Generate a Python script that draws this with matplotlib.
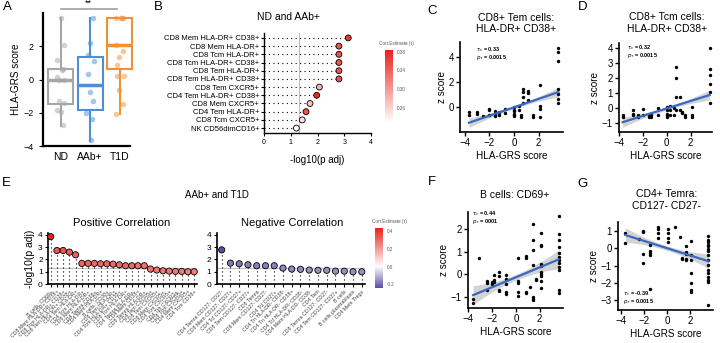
import numpy as np
import matplotlib
matplotlib.use('Agg')
import matplotlib.pyplot as plt
from matplotlib.colors import LinearSegmentedColormap, Normalize
from matplotlib.cm import ScalarMappable

plt.rcParams['font.family'] = ['Liberation Sans', 'DejaVu Sans']

# ---------------- data ----------------
# A: HLA-GRS per group
groups = ['ND', 'AAb+', 'T1D']
a_nd = [3.7, 2.1, 1.2, 0.65, 0.55, 0.15, 0.0, -0.05, -1.3, -1.4, -1.85, -1.95, -2.75]
a_aab = [3.7, 2.2, 1.45, 1.1, 0.35, -0.75, -1.3, -2.0, -2.4, -3.65]
a_t1d = [3.7, 3.7, 3.7, 3.7, 2.1, 1.7, 1.35, 0.85, 0.2, 0.2, -0.65, -1.5, -2.05]
a_med = [-0.06, -0.31, 2.08]
a_q1 = [-1.5, -1.81, 0.64]
a_q3 = [0.62, 1.38, 3.67]
a_lo = [-2.8, -3.7, -2.05]
a_hi = [3.72, 3.72, 3.72]

# B: ND and AAb+
b_labels = ['CD8 Mem HLA-DR+ CD38+', 'CD8 Mem HLA-DR+', 'CD8 Tcm HLA-DR+',
            'CD8 Tcm HLA-DR+ CD38+', 'CD8 Tem HLA-DR+', 'CD8 Tem HLA-DR+ CD38+',
            'CD8 Tem CXCR5+', 'CD4 Tem HLA-DR+ CD38+', 'CD8 Mem CXCR5+',
            'CD4 Tem HLA-DR+', 'CD8 Tcm CXCR5+', 'NK CD56dimCD16+']
b_logp = [3.15, 2.8, 2.8, 2.8, 2.8, 2.8, 2.07, 1.97, 1.72, 1.57, 1.43, 1.21]
b_corr = [0.37, 0.35, 0.35, 0.35, 0.35, 0.35, 0.28, 0.38, 0.27, 0.35, 0.25, 0.23]

# E: AAb+ and T1D
pos_labels = ['B cells: CD69+', 'CD8 Mem HLA-DR+ CD38+', 'CD8 Tcm HLA-DR+ CD38+',
              'CD8 Tem HLA-DR+ CD38+', 'CD4 Tem HLA-DR+', 'CD4 Tcm HLA-DR+',
              'CD8 Mem HLA-DR+', 'CD4 Temra CD38+', 'CD4 Mem HLA-DR+', 'B cells: CD38+',
              'CD8 Tem HLA-DR+', 'CD4 Tcm HLA-DR+ CD38+', 'CD8 Tcm HLA-DR+',
              'CD4 Temra HLA-DR+', 'CD4 Mem CD38+', 'CD8 Temra HLA-DR+', 'CD4 Tem CXCR5+',
              'CD8 Tem CXCR5+', 'CD8 Mem CXCR5+', 'CD4 Tcm CXCR5+', 'CD4 Tfh CXCR3+',
              'CD8 Tcm CXCR5+', 'CD4 Mem CXCR5+', 'CD4 Tcm CD38+']
pos_logp = [3.86, 2.73, 2.73, 2.6, 2.38, 1.68, 1.68, 1.68, 1.65, 1.65, 1.62, 1.57,
            1.49, 1.49, 1.49, 1.49, 1.22, 1.14, 1.08, 1.05, 1.03, 1.03, 1.0, 1.0]
pos_corr = [0.43, 0.33, 0.33, 0.32, 0.31, 0.3, 0.3, 0.3, 0.3, 0.3, 0.29, 0.29,
            0.29, 0.29, 0.28, 0.28, 0.27, 0.27, 0.26, 0.26, 0.26, 0.26, 0.25, 0.25]
neg_labels = ['CD4 Temra CD127- CD27-', 'CD8 Mem CD127- CD27+', 'CD4 Tcl CD127- CD27+',
              'CD8 Tem CD127- CD27+', 'CD8 Temra', 'CD8 Mem CD127- CD27-', 'CD4 Tcl CD27+',
              'CD4 Tn HLA-DR- CD38-', 'CD4 Tn HLA-DR- CD38+', 'CD4 Tcl HLA-DR- CD38-',
              'CD4 Mem HLA-DR- CD38-', 'CD4 Tem', 'CD8 Temra CD127- CD27-',
              'CD4 Tem CD127- CD27+', 'B cells', 'B cells plasmablasts', 'CD4 Mem Tregs']
neg_logp = [2.78, 1.7, 1.65, 1.57, 1.49, 1.49, 1.49, 1.3, 1.22, 1.2, 1.14, 1.12,
            1.12, 1.05, 1.05, 1.0, 1.0]
neg_corr = [-0.39, -0.18, -0.18, -0.17, -0.17, -0.17, -0.17, -0.16, -0.16, -0.16,
            -0.15, -0.15, -0.15, -0.15, -0.15, -0.15, -0.15]

# C, D, F, G: z score vs HLA-GRS (one x per column of points)
c_x = [-3.65, -3.0, -2.5, -2.0, -1.55, -1.25, -0.7, 0.0, 0.4, 0.6, 0.7, 1.1, 1.5, 2.1, 3.6]
c_y = [[-0.34, -0.6], [-0.4, -0.5], [-0.7], [-0.1, -0.2, -0.6], [-0.5, -0.7, -0.3],
       [-0.35, -0.6], [-0.1, -0.45], [0.0, -0.3, -0.5, -0.7, -0.6, -0.25], [0.1, -0.2],
       [-0.6, -0.75], [1.42, 1.24, 0.84, 0.32], [1.3, 1.1, 0.58], [-0.6, -0.75],
       [1.76, 0.1, -0.1, -0.75], [4.66, 4.34, 3.65, 1.42, 1.03, 0.68, 0.36]]
c_fit = [-1.22, 1.2]
c_band = [0.38, 0.1]

d_x = [-3.7, -2.8, -2.4, -2.0, -1.5, -1.3, -0.75, 0.0, 0.3, 0.65, 0.8, 1.1, 1.25, 1.5, 2.1, 3.6]
d_y = [[-0.5, -0.6], [-0.15, -0.4, -0.5], [-0.5, -0.6], [-0.05, -0.5], [-0.6, -0.5],
       [-0.5, -0.6], [0.0, -0.5], [0.05, -0.15, -0.4, -0.5, -0.6], [0.1, -0.15, -0.5],
       [0.0, -0.5], [2.7, 1.95, 0.75, -0.15], [0.75, -0.15], [-0.25, -0.35],
       [-0.45, -0.6], [0.05, -0.5, -0.6], [3.95, 2.6, 2.2, 1.6, 1.05, 0.3]]
d_fit = [-0.95, 0.85]
d_band = [0.33, 0.1]

f_x = [-3.6, -3.1, -2.4, -2.05, -1.8, -1.4, -0.8, 0.15, 0.85, 1.15, 1.45, 1.7, 2.1, 3.6]
f_y = [[-1.12, -1.27], [0.73], [-0.3, -0.4, -0.7], [-0.35, -0.45], [-0.05, -0.25, -0.35],
       [0.1, -0.1, -0.7, -0.75], [-0.05, -0.2, -0.45, -0.8, -0.9],
       [0.7, -0.3, -0.4, -0.8, -0.95], [0.8, 0.7, -0.8, -0.85], [-0.55],
       [2.2, 1.5, 1.05, 0.4, -1.0, -1.1, -1.15], [-0.2, -0.25],
       [1.8, 1.3, 1.25, 0.45, 0.35, 0.1, 0.0, -0.1, -0.3, -0.6],
       [2.56, 1.79, 1.5, 1.2, 0.92, 0.77, 0.62, 0.48, 0.33, 0.19, -0.69, -0.83]]
f_fit = [-0.93, 0.65]
f_band = [0.42, 0.13]

g_x = [-3.65, -2.5, -2.15, -1.5, -0.8, 0.1, 0.7, 1.1, 1.25, 1.65, 2.1, 3.6]
g_y = [[0.85, 0.3], [0.55], [1.0, 0.9, -0.35, -0.85], [0.2, -0.15, -0.3, -0.4, -2.35],
       [1.2, 1.1, 0.85, 0.6], [1.1, 0.85, 0.6, 0.35], [1.2], [0.65], [-0.55, -0.6],
       [0.15, -0.2, -0.35, -0.6, -0.7], [0.4, -0.42, -0.67, -1.45, -2.0, -2.4, -2.5],
       [0.67, 0.48, 0.38, 0.19, 0.1, -0.04, -0.19, -0.38, -0.67, -0.96, -1.25, -1.44,
        -1.63, -1.83, -1.92, -3.27]]
g_fit = [0.75, -0.75]
g_band = [0.42, 0.13]

# ---------------- figure ----------------
W, H = 720, 343
fig = plt.figure(figsize=(W / 100, H / 100), dpi=100)


def ax_px(l, t, r, b):
    return fig.add_axes([l / W, 1 - b / H, (r - l) / W, (b - t) / H])


def txt(x, y, s, **kw):
    return fig.text(x / W, 1 - y / H, s, **kw)


def style(ax, lw=1.0):
    for sp in ['top', 'right']:
        ax.spines[sp].set_visible(False)
    for sp in ['left', 'bottom']:
        ax.spines[sp].set_linewidth(lw)


# panel letters
for letter, (lx, ly) in zip('ABCDEFG', [(7, 7), (158, 7), (432, 11), (583, 7),
                                         (6, 183), (432, 182), (582, 184)]):
    txt(lx, ly, letter, fontsize=9.5, ha='center', va='center')

# ---------- A ----------
axA = ax_px(43, 13, 130, 146)
box_cols = ['#a6a6a6', '#4d8fd6', '#f39036']
stats = [dict(med=a_med[i], q1=a_q1[i], q3=a_q3[i], whislo=a_lo[i], whishi=a_hi[i], fliers=[])
         for i in range(3)]
bp = axA.bxp(stats, positions=[1, 2, 3], widths=0.86, showfliers=False, showcaps=False,
             patch_artist=True, manage_ticks=False)
for i, c in enumerate(box_cols):
    bp['boxes'][i].set(facecolor='white', edgecolor=c, linewidth=1.5, clip_on=False)
    bp['medians'][i].set(color=c, linewidth=2.5, clip_on=False)
    for w in bp['whiskers'][2 * i:2 * i + 2]:
        w.set(color=c, linewidth=1.5)
for i, (pts, c) in enumerate(zip([a_nd, a_aab, a_t1d], box_cols)):
    jit = 0.13 * np.sin(np.arange(len(pts)) * 2.3 + i)
    axA.scatter(i + 1 + jit, pts, s=16, color=c, alpha=0.5, lw=0, zorder=3, clip_on=False)
axA.plot([1, 2.9], [4.22, 4.22], color='#a0a0a0', lw=1.2, clip_on=False)
axA.text(1.95, 4.3, '**', ha='center', va='bottom', fontsize=6.5)
axA.set_xlim(0.4, 3.35)
axA.set_ylim(-4, 4)
axA.set_yticks([-4, -2, 0, 2])
axA.set_xticks([1, 2, 3])
axA.set_xticklabels(groups, fontsize=7.5)
axA.tick_params(axis='y', labelsize=6.5, length=3)
axA.tick_params(axis='x', length=0, pad=4)
axA.set_ylabel('HLA-GRS score', fontsize=7.2, labelpad=2)
style(axA, 1.6)

# ---------- B ----------
cmap_b = LinearSegmentedColormap.from_list('wr', ['#ffffff', '#e8231c'])
norm_b = Normalize(0.227, 0.384)
axB = ax_px(264, 33, 371, 133)
rows = np.arange(len(b_labels))[::-1]
axB.hlines(rows, 0, b_logp, colors='black', linestyles=(0, (1, 3)), lw=0.8)
axB.axvline(1.3, color='#c0c0c0', lw=0.8, zorder=0)
axB.scatter(b_logp, rows, c=b_corr, cmap=cmap_b, norm=norm_b, s=18,
            edgecolors='black', linewidths=0.6, zorder=3)
axB.set_yticks(rows)
axB.set_yticklabels(b_labels, fontsize=5.5)
axB.set_xlim(0, 4)
axB.set_ylim(-0.6, 11.6)
axB.set_xticks([0, 1, 2, 3, 4])
axB.tick_params(axis='x', labelsize=5, length=2.5, pad=1.5)
axB.tick_params(axis='y', length=2, pad=1.5)
axB.set_xlabel('-log10(p adj)', fontsize=7, labelpad=7)
style(axB, 1.0)
txt(288, 17, 'ND and AAb+', fontsize=7.5, ha='center', va='center')

caxB = ax_px(385, 50, 393, 123)
cbB = fig.colorbar(ScalarMappable(norm=norm_b, cmap=cmap_b), cax=caxB)
cbB.outline.set_visible(False)
cbB.set_ticks([0.26, 0.30, 0.34, 0.38])
cbB.set_ticklabels(['0.26', '0.30', '0.34', '0.38'])
caxB.tick_params(labelsize=3.3, length=1.5, width=0.3, color='white', pad=1, labelcolor='#555555')
txt(379, 43, 'Corr.Estimate (τ)', fontsize=3.3, ha='left', va='center', color='#555555')

# ---------- E ----------
cmap_e = LinearSegmentedColormap.from_list('pwr', [(0, '#5a4e9e'), (0.36, '#ffffff'), (1, '#e8231c')])
norm_e = Normalize(-0.24, 0.43)


def lolli(ax, vals, corr, labels):
    xs = np.arange(len(vals))
    ax.vlines(xs, 0, vals, colors='black', linestyles=(0, (1, 2.6)), lw=0.8)
    ax.axhline(1.3, color='#c0c0c0', lw=0.8, zorder=0)
    ax.scatter(xs, vals, c=corr, cmap=cmap_e, norm=norm_e, s=20,
               edgecolors='black', linewidths=0.6, zorder=3, clip_on=False)
    ax.set_xticks(xs)
    ax.set_xticklabels(labels, rotation=45, ha='right', rotation_mode='anchor',
                       fontsize=3.8, color='#444444')
    ax.set_ylim(-0.02, 4.13)
    ax.set_yticks([0, 1, 2, 3, 4])
    ax.tick_params(axis='y', labelsize=6, length=2.5, pad=1.5)
    ax.tick_params(axis='x', length=2.5, pad=1)
    style(ax, 1.2)


axEp = ax_px(48.3, 233.3, 197, 284.3)
lolli(axEp, pos_logp, pos_corr, pos_labels)
axEp.set_xlim(-0.38, len(pos_logp) - 0.55)
axEp.set_ylabel('-log10(p adj)', fontsize=7.5, labelpad=2)

axEn = ax_px(216.7, 233.3, 365, 284.3)
lolli(axEn, neg_logp, neg_corr, neg_labels)
axEn.set_xlim(-0.57, len(neg_logp) - 0.63)

txt(217, 195, 'AAb+ and T1D', fontsize=7, ha='center', va='center')
txt(122, 223, 'Positive Correlation', fontsize=8, ha='center', va='center')
txt(292, 223, 'Negative Correlation', fontsize=8, ha='center', va='center')

caxE = ax_px(375, 228, 383, 288)
cbE = fig.colorbar(ScalarMappable(norm=norm_e, cmap=cmap_e), cax=caxE)
cbE.outline.set_visible(False)
cbE.set_ticks([-0.2, 0.0, 0.2, 0.4])
cbE.set_ticklabels(['-0.2', '0.0', '0.2', '0.4'])
caxE.tick_params(labelsize=3.3, length=1.5, width=0.3, color='white', pad=1, labelcolor='#555555')
txt(372, 221, 'Corr.Estimate (τ)', fontsize=3.3, ha='left', va='center', color='#555555')


# ---------- scatter panels ----------
def scatter_panel(box, cols, ys, fit, band, xlim, ylim, yticks, title, title_xy, stats_txt, stats_xy):
    ax = ax_px(*box)
    xs = np.concatenate([[x] * len(y) for x, y in zip(cols, ys)])
    yv = np.concatenate(ys)
    x0, x1 = min(cols), max(cols)
    gx = np.linspace(x0, x1, 60)
    gy = np.interp(gx, [x0, x1], fit)
    t = (gx - (x0 + x1) / 2) / ((x1 - x0) / 2)
    hw = band[1] + (band[0] - band[1]) * t ** 2
    ax.fill_between(gx, gy - hw, gy + hw, color='#c9c9c9', alpha=0.8, lw=0, zorder=1)
    ax.scatter(xs, yv, s=6, color='black', lw=0, zorder=2, clip_on=False)
    ax.plot(gx, gy, color='#3b68c0', lw=1.6, zorder=3)
    ax.set_xlim(*xlim)
    ax.set_ylim(*ylim)
    ax.set_xticks([-4, -2, 0, 2])
    ax.set_yticks(yticks)
    ax.tick_params(labelsize=7, length=3, width=1, pad=1.5)
    ax.set_xlabel('HLA-GRS score', fontsize=7.2, labelpad=2)
    ax.set_ylabel('z score', fontsize=7.2, labelpad=1)
    style(ax, 1.2)
    txt(title_xy[0], title_xy[1], title, fontsize=7.5, ha='center', va='center', linespacing=1.15)
    for k, s in enumerate(stats_txt):
        txt(stats_xy[0], stats_xy[1] + 7.5 * k, s, fontsize=4, fontweight='bold',
            ha='left', va='center')
    return ax


scatter_panel((460, 42, 563, 132), c_x, c_y, c_fit, c_band, (-4.38, 3.97), (-1.95, 5.15), [0, 2, 4],
              'CD8+ Tem cells:\nHLA-DR+ CD38+', (516, 23.5),
              [r'$\tau_c$ = 0.33', r'$p_\tau$ = 0.0015'], (476, 49.5))
scatter_panel((619, 43, 712, 132), d_x, d_y, d_fit, d_band, (-4.0, 3.8), (-1.6, 4.3), [-1, 0, 1, 2, 3, 4],
              'CD8+ Tcm cells:\nHLA-DR+ CD38+', (667, 23),
              [r'$\tau_c$ = 0.32', r'$p_\tau$ = 0.0015'], (627, 48))
scatter_panel((468, 212, 563, 308), f_x, f_y, f_fit, f_band, (-4.03, 3.97), (-1.5, 2.75), [-1, 0, 1, 2],
              'B cells: CD69+', (515, 195),
              [r'$\tau_c$ = 0.44', r'$p_\tau$ = 0001'], (472, 214))
scatter_panel((618, 222, 713, 310), g_x, g_y, g_fit, g_band, (-4.3, 4.0), (-3.55, 1.5), [-3, -2, -1, 0, 1],
              'CD4+ Temra:\nCD127- CD27-', (667, 200),
              [r'$\tau_c$ = -0.39', r'$p_\tau$ = 0.0015'], (623, 294))

fig.savefig('out.png', dpi=100)
